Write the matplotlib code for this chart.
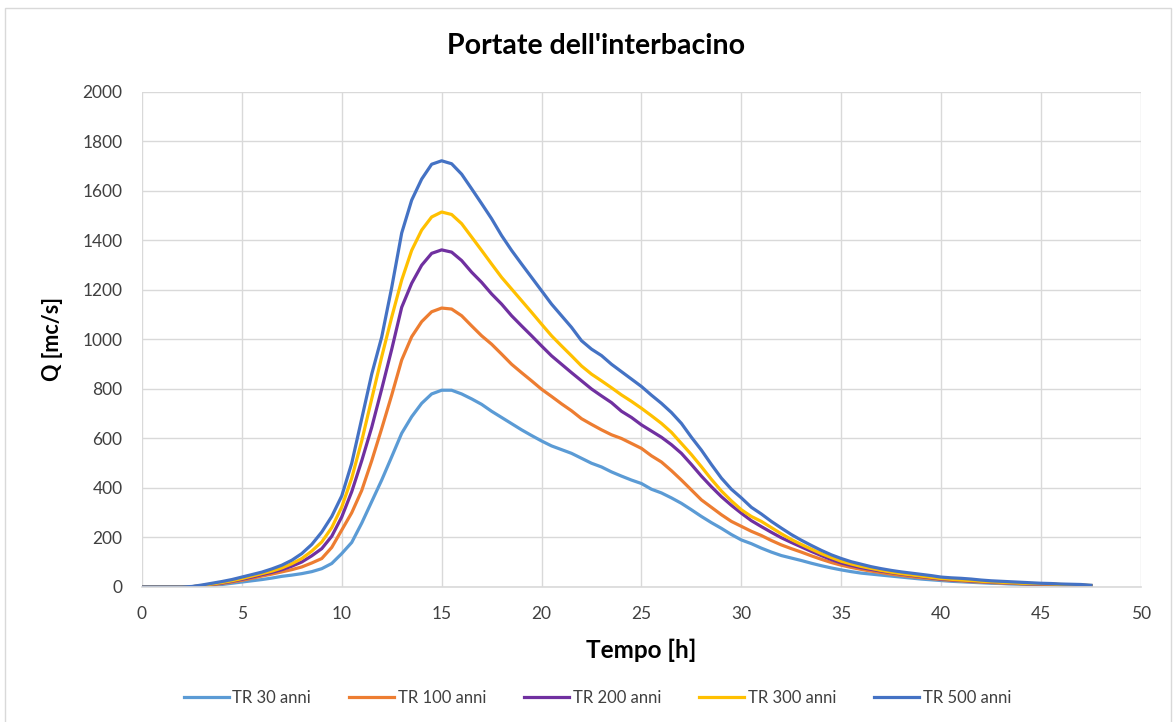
#!/usr/bin/env python

# ---- IMPORT MODULES

import numpy as np
import matplotlib
matplotlib.use("Agg")
import matplotlib.pyplot as plt
from matplotlib.patches import Rectangle

# ---- DATA

# time steps [h], every half hour
tempo = np.arange(0.0, 48.0, 0.5)

# discharges [mc/s] for each return period
tr30 = [0, 0, 0, 0, 0, 0,
        3, 6, 10, 15, 20, 25, 30, 36, 43, 48, 54, 62, 74, 95, 135,
        180, 258, 345, 432, 526, 621, 688, 742, 780, 795,
        795, 780, 760, 738, 710, 685, 660, 635, 612, 590,
        570, 555, 540, 520, 500, 485, 465, 448, 432, 418,
        395, 380, 360, 338, 312, 285, 260, 237, 212, 190,
        175, 157, 141, 127, 117, 107, 96, 86, 77, 69,
        62, 56, 52, 48, 44, 40, 36, 32, 29, 26,
        23, 21, 19, 17, 15, 14, 12, 11, 10, 9,
        8, 7, 6, 5, 4]

tr100 = [0, 0, 0, 0, 0, 1,
         4, 9, 14, 20, 27, 35, 44, 52, 61, 70, 81, 97, 115, 160, 230,
         300, 390, 510, 640, 775, 917, 1011, 1072, 1112, 1127,
         1123, 1096, 1055, 1015, 981, 941, 900, 866, 833, 799,
         770, 740, 712, 680, 657, 635, 615, 600, 580, 560,
         530, 505, 470, 432, 392, 352, 322, 292, 265, 245,
         225, 208, 188, 170, 155, 141, 126, 112, 99, 88,
         79, 71, 64, 58, 52, 47, 42, 38, 34, 30,
         27, 25, 22, 20, 18, 16, 15, 13, 12, 11,
         10, 8, 7, 6, 5]

tr200 = [0, 0, 0, 0, 0, 1,
         5, 11, 16, 23, 31, 40, 50, 59, 70, 84, 101, 126, 155, 205, 283,
         385, 510, 645, 800, 960, 1130, 1227, 1300, 1348, 1362,
         1353, 1319, 1272, 1231, 1184, 1143, 1096, 1055, 1015, 974,
         934, 900, 866, 833, 800, 772, 745, 710, 685, 655,
         630, 605, 575, 540, 495, 448, 405, 365, 330, 298,
         268, 244, 221, 199, 180, 162, 144, 127, 111, 97,
         87, 78, 71, 64, 58, 52, 47, 42, 37, 32,
         29, 27, 24, 22, 20, 18, 16, 14, 13, 12,
         11, 9, 8, 7, 5]

tr300 = [0, 0, 0, 0, 0, 1,
         6, 12, 18, 25, 34, 44, 54, 64, 77, 94, 115, 145, 182, 240, 323,
         440, 590, 760, 930, 1090, 1240, 1360, 1442, 1495, 1515,
         1505, 1468, 1414, 1360, 1305, 1251, 1204, 1157, 1110, 1062,
         1015, 974, 934, 893, 860, 833, 805, 776, 750, 722,
         692, 661, 625, 580, 535, 486, 435, 388, 348, 312,
         285, 265, 240, 215, 192, 172, 153, 135, 119, 104,
         93, 83, 75, 67, 60, 54, 49, 44, 39, 34,
         31, 28, 26, 23, 21, 19, 17, 15, 14, 13,
         12, 10, 9, 8, 6]

tr500 = [0, 0, 0, 0, 0, 2,
         8, 15, 22, 30, 40, 50, 60, 73, 88, 108, 135, 172, 222, 285, 368,
         500, 680, 860, 1010, 1210, 1430, 1563, 1648, 1708, 1722,
         1710, 1668, 1609, 1549, 1488, 1420, 1360, 1305, 1251, 1197,
         1143, 1096, 1049, 995, 961, 935, 900, 870, 840, 810,
         775, 742, 705, 661, 605, 553, 495, 440, 395, 360,
         322, 295, 265, 238, 212, 189, 168, 148, 130, 115,
         102, 92, 82, 74, 67, 61, 56, 51, 46, 40,
         37, 35, 32, 28, 25, 23, 21, 19, 17, 15,
         14, 12, 11, 10, 7]

labels = ["TR 30 anni", "TR 100 anni", "TR 200 anni", "TR 300 anni", "TR 500 anni"]
colors = ["#5B9BD5", "#ED7D31", "#7030A0", "#FFC000", "#4472C4"]

x_ticks = list(range(0, 55, 5))
y_ticks = list(range(0, 2200, 200))

# ---- FIGURE

plt.rcParams["font.family"] = ["Lato", "DejaVu Sans"]

fig = plt.figure(figsize=(11.76, 7.22), dpi=100)
ax = fig.add_axes([0.1207, 0.187, 0.8495, 0.6856])

for serie, lab, col in zip([tr30, tr100, tr200, tr300, tr500], labels, colors):
    ax.plot(tempo, serie, color=col, lw=2.3, label=lab, solid_joinstyle="round")

ax.set_xlim(0, 50)
ax.set_ylim(0, 2000)
ax.set_xticks(x_ticks)
ax.set_yticks(y_ticks)
ax.tick_params(axis="both", length=0, labelsize=12.5, colors="#404040")
ax.tick_params(axis="x", pad=14)
ax.tick_params(axis="y", pad=14)

ax.grid(True, color="#d9d9d9", lw=1.0)
ax.set_axisbelow(True)
for side in ["top", "right", "left"]:
    ax.spines[side].set_visible(False)
ax.spines["bottom"].set_color("#d9d9d9")
ax.spines["bottom"].set_linewidth(1.2)

ax.set_xlabel("Tempo [h]", fontsize=17.5, fontweight="bold", labelpad=12)
ax.set_ylabel("Q [mc/s]", fontsize=15.5, fontweight="bold", labelpad=14)
fig.text(0.507, 1 - 46 / 722, "Portate dell'interbacino", ha="center", va="center",
         fontsize=20.5, fontweight="bold")

fig.legend(loc="center", bbox_to_anchor=(0.508, 1 - 698 / 722), ncol=5, frameon=False,
           fontsize=12, handlelength=2.7, handletextpad=0.2, columnspacing=2.3,
           labelcolor="#404040")

# chart border
fig.patches.append(Rectangle((0.004, -0.01), 0.992, 0.999, transform=fig.transFigure,
                             fill=False, edgecolor="#d9d9d9", lw=1.0))

fig.savefig("out.png", dpi=100)
